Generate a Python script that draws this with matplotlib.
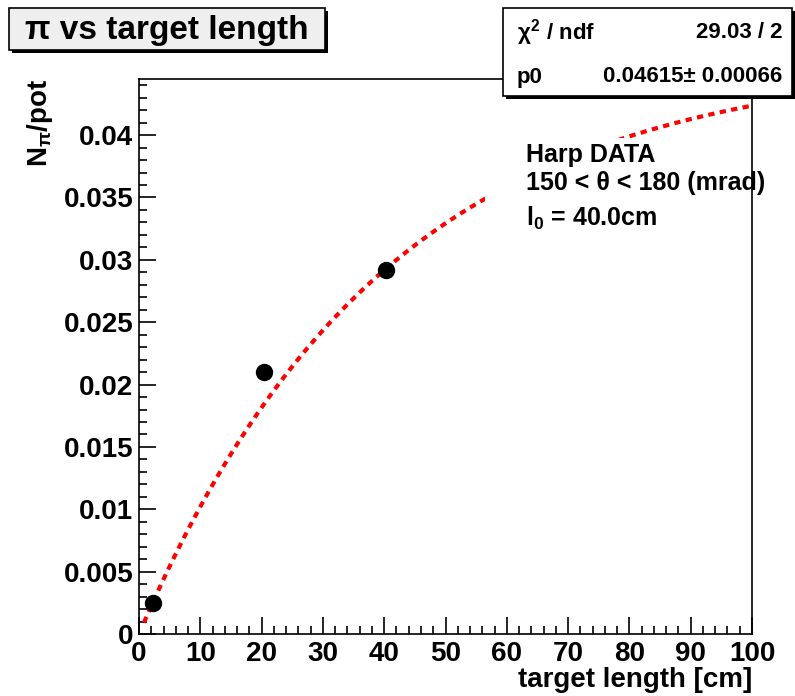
import numpy as np
import matplotlib
matplotlib.use('Agg')
import matplotlib.pyplot as plt
from matplotlib.patches import Rectangle
from matplotlib.ticker import MultipleLocator

plt.rcParams['font.family'] = ['Liberation Sans', 'DejaVu Sans']
plt.rcParams['font.weight'] = 'bold'
plt.rcParams['axes.labelweight'] = 'bold'
plt.rcParams['mathtext.fontset'] = 'custom'
plt.rcParams['mathtext.rm'] = 'Liberation Sans:bold'
plt.rcParams['mathtext.it'] = 'Liberation Sans:bold'
plt.rcParams['mathtext.bf'] = 'Liberation Sans:bold'

# measured points
lengths = [2.3, 20.4, 40.3]
npot = [0.0025, 0.0210, 0.0292]

# fit: p0 * (1 - exp(-L / l0))
p0 = 0.04615
p0_err = 0.00066
l0 = 40.0
chi2 = 29.03
ndf = 2

W, H = 795, 696
fig = plt.figure(figsize=(W / 100, H / 100), dpi=100)

def fx(px):
    return px / W

def fy(py):
    return 1 - py / H

ax = fig.add_axes([fx(139), fy(634), fx(752) - fx(139), fy(79) - fy(634)])

xfit = np.linspace(0.8, 100, 300)
yfit = p0 * (1 - np.exp(-xfit / l0))
ax.plot(xfit, yfit, color='red', lw=3, linestyle=(0, (1.5, 1.3)), zorder=2)
ax.plot(lengths, npot, 'o', color='black', ms=11.5, zorder=3)

ax.set_xlim(0, 100)
ax.set_ylim(0, 0.0445)
ax.xaxis.set_major_locator(MultipleLocator(10))
ax.xaxis.set_minor_locator(MultipleLocator(2))
ax.yaxis.set_major_locator(MultipleLocator(0.005))
ax.yaxis.set_minor_locator(MultipleLocator(0.001))
ax.yaxis.set_major_formatter(plt.FuncFormatter(lambda v, p: ('%g' % round(v, 4))))
ax.tick_params(which='both', direction='in', top=False, right=False, width=1.2, labelsize=20)
ax.tick_params(which='major', length=12)
ax.tick_params(which='minor', length=6)
ax.tick_params(axis='x', pad=5)
ax.tick_params(axis='y', pad=4)
for s in ax.spines.values():
    s.set_linewidth(1.2)
    s.set_zorder(5)

ax.set_xlabel('target length [cm]', loc='right', fontsize=20, labelpad=0)
ax.set_ylabel(r'N$_{\pi}$/pot', loc='top', fontsize=20, labelpad=6)

# text pave (white background hides the curve)
ax.add_patch(Rectangle((56.4, 0.0300), 45, 0.0098, facecolor='white', edgecolor='none',
                       zorder=4, clip_on=False))
ax.text(0.631, 0.885, 'Harp DATA\n150 < \u03b8 < 180 (mrad)',
        transform=ax.transAxes, fontsize=18, fontweight='bold', va='top', ha='left',
        linespacing=1.2, zorder=4.5)
ax.text(0.631, 0.735, r'l$_0$' + ' = %.1fcm' % l0,
        transform=ax.transAxes, fontsize=18, fontweight='bold', va='baseline', ha='left', zorder=4.5)

# title box
def box(x0, y0, x1, y1, fc):
    fig.add_artist(Rectangle((fx(x0 + 3), fy(y1 + 3)), fx(x1) - fx(x0), fy(y0) - fy(y1),
                             transform=fig.transFigure, facecolor='black', edgecolor='none', zorder=10))
    fig.add_artist(Rectangle((fx(x0), fy(y1)), fx(x1) - fx(x0), fy(y0) - fy(y1),
                             transform=fig.transFigure, facecolor=fc, edgecolor='black', lw=1.2, zorder=11))

box(9, 8, 325, 50, '#efefef')
fig.text(fx(167), fy(30), '\u03c0 vs target length', ha='center', va='center', fontsize=24,
         fontweight='bold', zorder=12)

box(503, 8, 792, 96, 'white')
fig.text(fx(517), fy(33), r'$\chi^2$ / ndf', ha='left', va='center', fontsize=16, fontweight='bold', zorder=12)
fig.text(fx(782), fy(33), '%.2f / %d' % (chi2, ndf), ha='right', va='center', fontsize=16,
         fontweight='bold', zorder=12)
fig.text(fx(517), fy(77), 'p0', ha='left', va='center', fontsize=16, fontweight='bold', zorder=12)
fig.text(fx(782), fy(77), '%.5f\u00b1 %.5f' % (p0, p0_err), ha='right', va='center', fontsize=16,
         fontweight='bold', zorder=12)

fig.savefig('out.png', dpi=100)
